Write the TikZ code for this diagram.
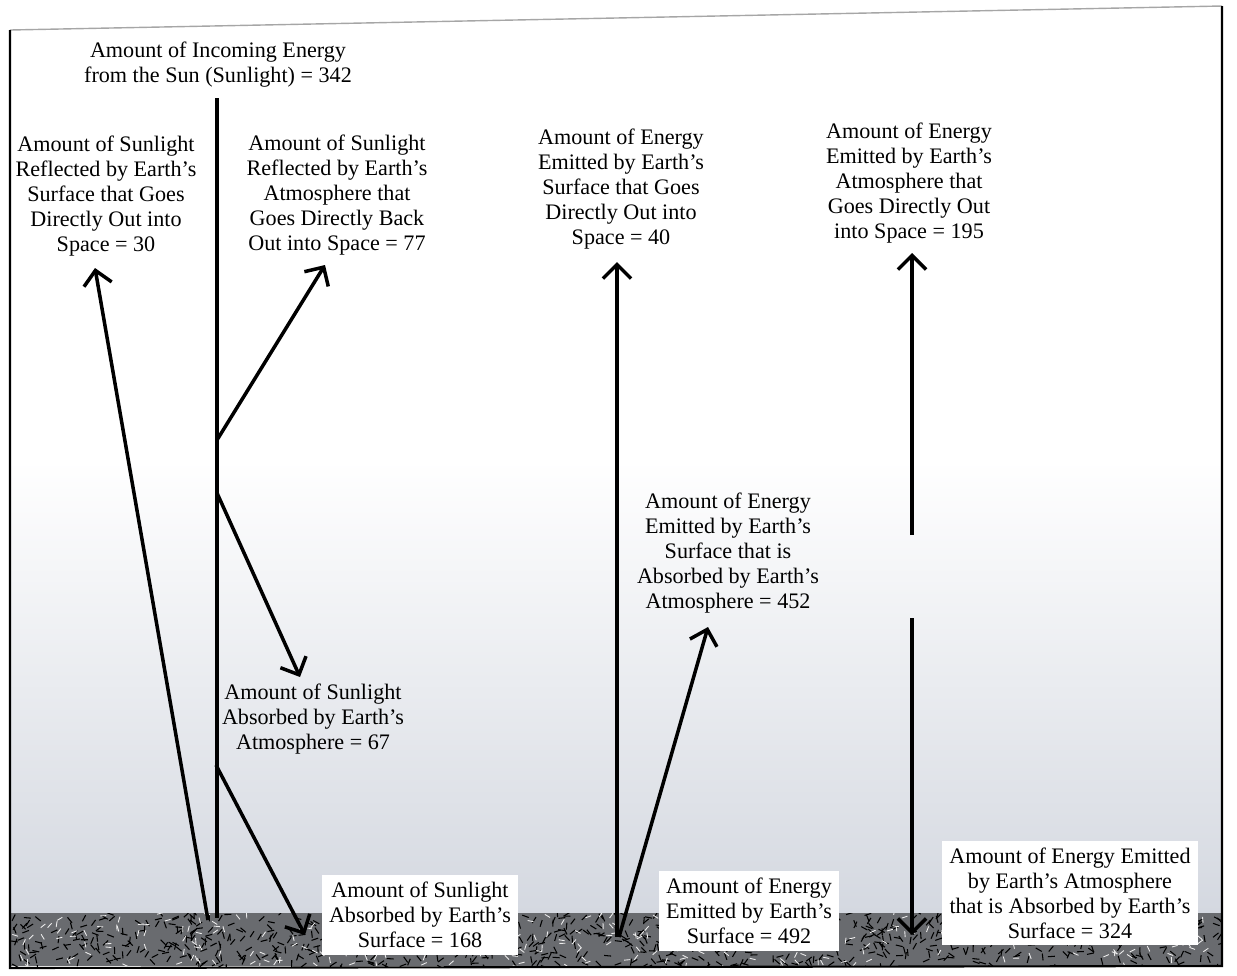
\documentclass[tikz,border=0pt]{standalone}
\usepackage{fontspec}
\setmainfont{Liberation Serif}
\usepackage{tikz}
\usetikzlibrary{arrows.meta}
\definecolor{haze}{RGB}{212,216,224}
\definecolor{soil}{RGB}{105,107,111}
\tikzstyle{label} = [align=center, font=\fontsize{12.6}{14.2}\selectfont, inner sep=1pt]
\tikzstyle{box} = [label, fill=white, inner sep=4pt]
\tikzstyle{ray} = [line width=2pt]
\tikzstyle{arrow} = [ray, -{Straight Barb[length=8pt,width=16pt]}]

\begin{document}
\begin{tikzpicture}[x=0.02cm, y=-0.02cm]
\useasboundingbox (0,0) rectangle (1237,975);
\shade[top color=white, bottom color=haze] (10,460) rectangle (1222,913);
\fill[soil] (10,913) rectangle (1222,966);
\begin{scope}
\clip (10,913) rectangle (1222,966);
\pgfmathsetseed{7}
\foreach \i in {1,...,800} {
  \pgfmathsetmacro{\px}{12+1208*rnd}
  \pgfmathsetmacro{\py}{914+52*rnd}
  \pgfmathsetmacro{\pa}{360*rnd}
  \draw[black, line width=0.6pt] (\px,\py) -- ++(\pa:7);
}
\foreach \i in {1,...,300} {
  \pgfmathsetmacro{\px}{12+1208*rnd}
  \pgfmathsetmacro{\py}{914+52*rnd}
  \pgfmathsetmacro{\pa}{360*rnd}
  \draw[gray!15, line width=0.5pt] (\px,\py) -- ++(\pa:6);
}
\end{scope}
\draw[gray!70, line width=0.8pt] (10,30) -- (1222,6);
\draw[line width=1.2pt] (10,30) -- (10,968) -- (1222,966) -- (1222,6);

\node (sun) [label] at (218,65) {Amount of Incoming Energy\\from the Sun (Sunlight) = 342};
\node (out30) [label] at (106,196) {Amount of Sunlight\\Reflected by Earth's\\Surface that Goes\\Directly Out into\\Space = 30};
\node (out77) [label] at (337,195) {Amount of Sunlight\\Reflected by Earth's\\Atmosphere that\\Goes Directly Back\\Out into Space = 77};
\node (out40) [label] at (621,189) {Amount of Energy\\Emitted by Earth's\\Surface that Goes\\Directly Out into\\Space = 40};
\node (out195) [label] at (909,183) {Amount of Energy\\Emitted by Earth's\\Atmosphere that\\Goes Directly Out\\into Space = 195};
\node (atm67) [label] at (313,719) {Amount of Sunlight\\Absorbed by Earth's\\Atmosphere = 67};
\node (atm452) [label] at (728,553) {Amount of Energy\\Emitted by Earth's\\Surface that is\\Absorbed by Earth's\\Atmosphere = 452};
\node (surf168) [box] at (420,915) {Amount of Sunlight\\Absorbed by Earth's\\Surface = 168};
\node (surf492) [box] at (749,911) {Amount of Energy\\Emitted by Earth's\\Surface = 492};
\node (surf324) [box] at (1070,893) {Amount of Energy Emitted\\by Earth's Atmosphere\\that is Absorbed by Earth's\\Surface = 324};

\coordinate (top) at (217,98);
\coordinate (foot) at (217,918);
\coordinate (b77) at (217,440);
\coordinate (b67) at (217,493);
\coordinate (b168) at (216,765);
\coordinate (s30) at (208,920);
\coordinate (t30) at (95,268);
\coordinate (t77) at (325,265);
\coordinate (t67) at (300,677);
\coordinate (t168) at (305,935);
\coordinate (s40) at (617,937);
\coordinate (t40) at (617,262);
\coordinate (s452) at (619,937);
\coordinate (t452) at (708,627);
\coordinate (s195) at (912,535);
\coordinate (t195) at (912,253);
\coordinate (s324) at (912,618);
\coordinate (t324) at (912,935);

\draw [ray] (top) -- (foot);
\draw [arrow] (b77) -- (t77);
\draw [arrow] (b67) -- (t67);
\draw [arrow] (b168) -- (t168);
\draw [arrow] (s30) -- (t30);
\draw [arrow] (s40) -- (t40);
\draw [arrow] (s452) -- (t452);
\draw [arrow] (s195) -- (t195);
\draw [arrow] (s324) -- (t324);
\end{tikzpicture}
\end{document}
